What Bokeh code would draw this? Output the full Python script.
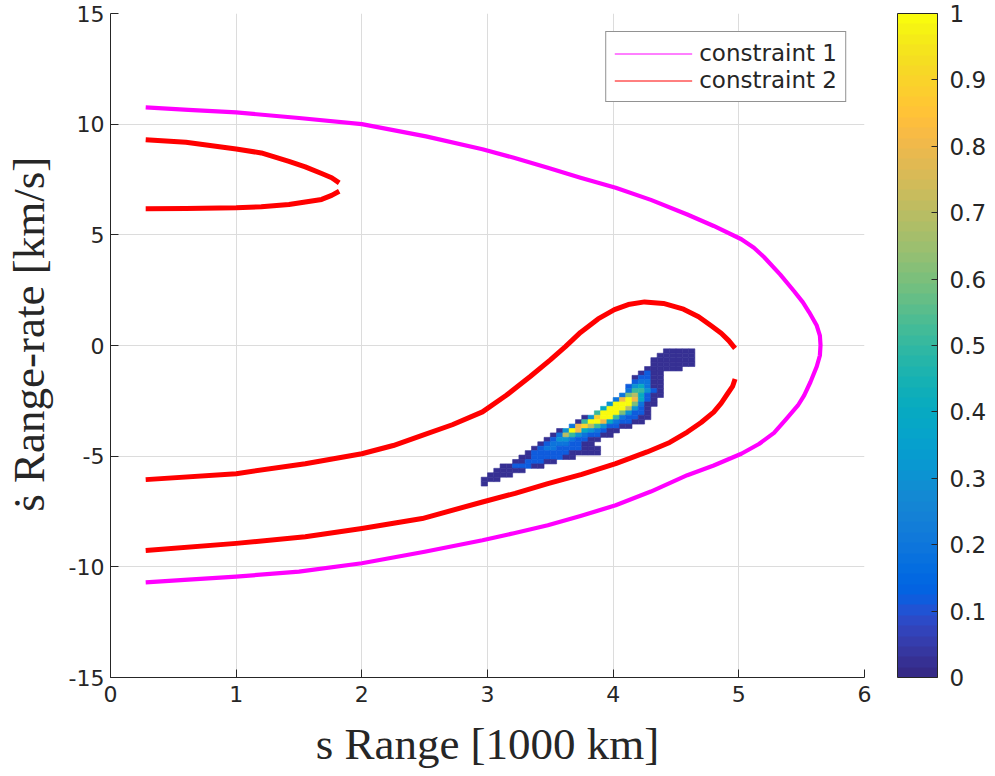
from bokeh.plotting import figure
from bokeh.models import (ColumnDataSource, LinearColorMapper, ColorBar, FixedTicker,
                          CustomJSTickFormatter, Legend, LegendItem)
from bokeh.transform import transform
from bokeh.embed import file_html
from bokeh.resources import INLINE

# ---------------- data ----------------
# constraint 1 (magenta) : s [1000 km], sdot [km/s]
c1_s = [0.28, 0.62, 1.0, 1.5, 2.0, 2.51, 2.96, 3.21, 3.48, 3.74, 4.02, 4.30, 4.59, 4.80, 5.02, 5.12, 5.20, 5.33,
        5.44, 5.51, 5.56, 5.62, 5.645, 5.65,
        5.645, 5.62, 5.57, 5.52, 5.47, 5.38, 5.28, 5.16, 5.02, 4.80, 4.59, 4.30, 4.02, 3.74, 3.48, 3.21, 2.96,
        2.50, 2.0, 1.5, 1.0, 0.62, 0.28]
c1_v = [10.76, 10.65, 10.53, 10.28, 10.0, 9.45, 8.87, 8.48, 8.03, 7.58, 7.13, 6.58, 5.92, 5.40, 4.80, 4.42, 4.00, 3.20,
        2.45, 1.95, 1.50, 0.90, 0.45, 0.02,
        -0.45, -0.95, -1.65, -2.25, -2.71, -3.30, -3.95, -4.45, -4.89, -5.42, -5.86, -6.60, -7.22, -7.70, -8.12, -8.48, -8.80,
        -9.32, -9.84, -10.22, -10.44, -10.58, -10.70]

# constraint 2 (red) : small arc (upper branch / lower branch)
c2a_up_s = [0.28, 0.6, 1.0, 1.2, 1.42, 1.55, 1.68, 1.76, 1.82]
c2a_up_v = [9.30, 9.18, 8.88, 8.70, 8.32, 8.07, 7.77, 7.58, 7.35]
c2a_lo_s = [1.82, 1.76, 1.68, 1.55, 1.42, 1.2, 1.0, 0.6, 0.28]
c2a_lo_v = [6.97, 6.78, 6.60, 6.48, 6.37, 6.27, 6.22, 6.19, 6.18]

# constraint 2 (red) : large loop (upper branch / lower branch)
c2b_up_s = [0.28, 1.0, 1.55, 2.0, 2.25, 2.48, 2.72, 2.96, 3.15, 3.34, 3.50, 3.62, 3.74, 3.88, 4.01, 4.12,
            4.25, 4.40, 4.56, 4.68, 4.78, 4.86, 4.92, 4.97]
c2b_up_v = [-6.06, -5.79, -5.34, -4.89, -4.52, -4.06, -3.58, -3.0, -2.25, -1.40, -0.65, -0.05, 0.59, 1.20, 1.62, 1.85,
            1.97, 1.90, 1.64, 1.30, 0.89, 0.55, 0.22, -0.13]
c2b_lo_s = [4.97, 4.95, 4.91, 4.86, 4.80, 4.70, 4.59, 4.45, 4.27, 4.02, 3.75, 3.48, 3.22, 2.96, 2.48, 2.0, 1.55, 1.0, 0.28]
c2b_lo_v = [-1.51, -1.85, -2.18, -2.60, -3.01, -3.48, -3.91, -4.38, -4.81, -5.34, -5.82, -6.24, -6.68, -7.07, -7.82,
            -8.27, -8.64, -8.94, -9.26]

# density histogram cells: column j -> s = 2.925 + 0.05 j ; row i -> sdot = -0.25 - 0.2 i
hist_s0, hist_ds = 2.925, 0.05
hist_v0, hist_dv = -0.25, -0.2
hist_rows = [
    (30, "00000"),
    (29, "000000"),
    (28, "0000000"),
    (28, "0000000"),
    (27, "000000"),
    (26, "0100"),
    (25, "01100"),
    (25, "12200"),
    (24, "134200"),
    (24, "255310"),
    (23, "2674100"),
    (22, "28X8410"),
    (21, "3XXX6200"),
    (20, "4XXX7310"),
    (19, "5XXX63110"),
    (17, "039XX521100"),
    (16, "05XX8421100"),
    (15, "2897531100"),
    (13, "03X8432100"),
    (12, "0275321100"),
    (11, "013321100"),
    (10, "012221100"),
    (9, "01221111000"),
    (8, "011111100000"),
    (7, "001111100"),
    (6, "0011100"),
    (4, "0011100"),
    (3, "00000"),
    (2, "0000"),
    (1, "000"),
    (1, "0"),
]
hist_levels = {"0": 0.03, "1": 0.12, "2": 0.2, "3": 0.3, "4": 0.4, "5": 0.5,
               "6": 0.6, "7": 0.7, "8": 0.8, "9": 0.9, "X": 1.0}

x_ticks = [0, 1, 2, 3, 4, 5, 6]
y_ticks = [-15, -10, -5, 0, 5, 10, 15]
cb_ticks = [0, 0.1, 0.2, 0.3, 0.4, 0.5, 0.6, 0.7, 0.8, 0.9, 1.0]

# parula colormap (64 entries)
PARULA_RGB = [
    (0.2081, 0.1663, 0.5292), (0.2116, 0.1898, 0.5777), (0.2123, 0.2138, 0.6270), (0.2081, 0.2386, 0.6771),
    (0.1959, 0.2645, 0.7279), (0.1707, 0.2919, 0.7792), (0.1253, 0.3242, 0.8303), (0.0591, 0.3598, 0.8683),
    (0.0117, 0.3875, 0.8820), (0.0060, 0.4086, 0.8828), (0.0165, 0.4266, 0.8786), (0.0329, 0.4430, 0.8720),
    (0.0498, 0.4586, 0.8641), (0.0629, 0.4737, 0.8554), (0.0723, 0.4887, 0.8467), (0.0779, 0.5040, 0.8384),
    (0.0793, 0.5200, 0.8312), (0.0749, 0.5375, 0.8263), (0.0641, 0.5570, 0.8240), (0.0488, 0.5772, 0.8228),
    (0.0343, 0.5966, 0.8199), (0.0265, 0.6137, 0.8135), (0.0239, 0.6287, 0.8038), (0.0231, 0.6418, 0.7913),
    (0.0228, 0.6535, 0.7768), (0.0267, 0.6642, 0.7607), (0.0384, 0.6743, 0.7436), (0.0590, 0.6838, 0.7254),
    (0.0843, 0.6928, 0.7062), (0.1133, 0.7015, 0.6859), (0.1453, 0.7098, 0.6646), (0.1801, 0.7177, 0.6424),
    (0.2178, 0.7250, 0.6193), (0.2586, 0.7317, 0.5954), (0.3022, 0.7376, 0.5712), (0.3482, 0.7424, 0.5473),
    (0.3953, 0.7459, 0.5244), (0.4420, 0.7481, 0.5033), (0.4871, 0.7491, 0.4840), (0.5300, 0.7491, 0.4661),
    (0.5709, 0.7485, 0.4494), (0.6099, 0.7473, 0.4337), (0.6473, 0.7456, 0.4188), (0.6834, 0.7435, 0.4044),
    (0.7184, 0.7411, 0.3905), (0.7525, 0.7384, 0.3768), (0.7858, 0.7356, 0.3633), (0.8185, 0.7327, 0.3498),
    (0.8507, 0.7299, 0.3360), (0.8824, 0.7274, 0.3217), (0.9139, 0.7258, 0.3063), (0.9450, 0.7261, 0.2886),
    (0.9739, 0.7314, 0.2666), (0.9938, 0.7455, 0.2403), (0.9990, 0.7653, 0.2164), (0.9955, 0.7861, 0.1967),
    (0.9880, 0.8066, 0.1794), (0.9789, 0.8271, 0.1633), (0.9697, 0.8481, 0.1475), (0.9626, 0.8705, 0.1309),
    (0.9589, 0.8949, 0.1132), (0.9598, 0.9218, 0.0948), (0.9661, 0.9514, 0.0755), (0.9763, 0.9831, 0.0538),
]
PARULA = ["#%02x%02x%02x" % tuple(int(round(c * 255)) for c in rgb) for rgb in PARULA_RGB]

# ---------------- build cells ----------------
cell_s, cell_v, cell_val = [], [], []
for i, (j0, row) in enumerate(hist_rows):
    for k, ch in enumerate(row):
        cell_s.append(hist_s0 + hist_ds * (j0 + k))
        cell_v.append(hist_v0 + hist_dv * i)
        cell_val.append(hist_levels[ch])
hist_src = ColumnDataSource(dict(s=cell_s, v=cell_v, val=cell_val))

TXT = "#262626"
TICK_FONT = "DejaVu Sans"

p = figure(frame_width=754, frame_height=664, x_range=(0, 6), y_range=(-15, 15),
           output_backend="svg", toolbar_location=None,
           min_border_left=107, min_border_top=13, min_border_bottom=96, min_border_right=2)
p.outline_line_color = None
p.background_fill_color = "white"

for ax in (p.xaxis[0], p.yaxis[0]):
    ax.axis_line_color = TXT
    ax.major_tick_line_color = TXT
    ax.major_tick_in = 8
    ax.major_tick_out = 0
    ax.minor_tick_line_color = None
    ax.major_label_text_font = TICK_FONT
    ax.major_label_text_font_size = "22px"
    ax.major_label_text_color = TXT
    ax.axis_label_text_font = "Liberation Serif"
    ax.axis_label_text_font_style = "normal"
    ax.axis_label_text_font_size = "45px"
    ax.axis_label_text_color = TXT

p.xaxis.ticker = FixedTicker(ticks=x_ticks)
p.yaxis.ticker = FixedTicker(ticks=y_ticks)
p.xaxis.formatter = CustomJSTickFormatter(code="return tick.toString()")
p.yaxis.formatter = CustomJSTickFormatter(code="return tick.toString()")
p.xaxis.major_label_standoff = 8
p.yaxis.major_label_standoff = 6
p.xaxis.axis_label = "s Range [1000 km]"
p.yaxis.axis_label = "\u00a0\u00a0\u1e61 Range-rate [km/s]"
p.xaxis.axis_label_standoff = 14
p.yaxis.axis_label_standoff = 12

p.grid.grid_line_color = "#dcdcdc"
p.grid.grid_line_width = 1

mapper = LinearColorMapper(palette=PARULA, low=0, high=1)

# constraint curves
MAG = "#ff00ff"
RED = "#ff0000"
p.line(c1_s, c1_v, line_color=MAG, line_width=4.2, line_join="round")
p.line(c2a_up_s, c2a_up_v, line_color=RED, line_width=5, line_join="round")
p.line(c2a_lo_s, c2a_lo_v, line_color=RED, line_width=5, line_join="round")
p.line(c2b_up_s, c2b_up_v, line_color=RED, line_width=5, line_join="round")
p.line(c2b_lo_s, c2b_lo_v, line_color=RED, line_width=5, line_join="round")

# density histogram
p.rect(x="s", y="v", width=hist_ds, height=abs(hist_dv), source=hist_src,
       fill_color=transform("val", mapper), line_color=transform("val", mapper), line_width=0.6)

# legend (thin sample lines, drawn outside the visible range)
lg1 = p.line([-10, -9], [-100, -100], line_color=MAG, line_width=1)
lg2 = p.line([-10, -9], [-100, -100], line_color=RED, line_width=1)
legend = Legend(items=[LegendItem(label="constraint 1", renderers=[lg1]),
                       LegendItem(label="constraint 2", renderers=[lg2])],
                location="top_right", margin=18, padding=8, spacing=1,
                glyph_width=78, glyph_height=25, label_height=25, label_standoff=7,
                label_text_font=TICK_FONT, label_text_font_size="23px", label_text_color=TXT,
                border_line_color=TXT, border_line_width=1, background_fill_color="white",
                background_fill_alpha=1)
p.add_layout(legend)

cb = ColorBar(color_mapper=mapper, width=40, height=664, padding=0, margin=0,
              location=(33, 0),
              ticker=FixedTicker(ticks=cb_ticks),
              formatter=CustomJSTickFormatter(code="return Number(tick.toFixed(1)).toString()"),
              major_label_text_font=TICK_FONT, major_label_text_font_size="23px",
              major_label_text_color=TXT, label_standoff=12,
              major_tick_in=6, major_tick_out=0, major_tick_line_color=TXT,
              minor_tick_line_color=None,
              bar_line_color=TXT, bar_line_width=1,
              border_line_color=None, background_fill_alpha=0)
p.add_layout(cb, "right")

open("out.html", "w").write(file_html(p, INLINE))
